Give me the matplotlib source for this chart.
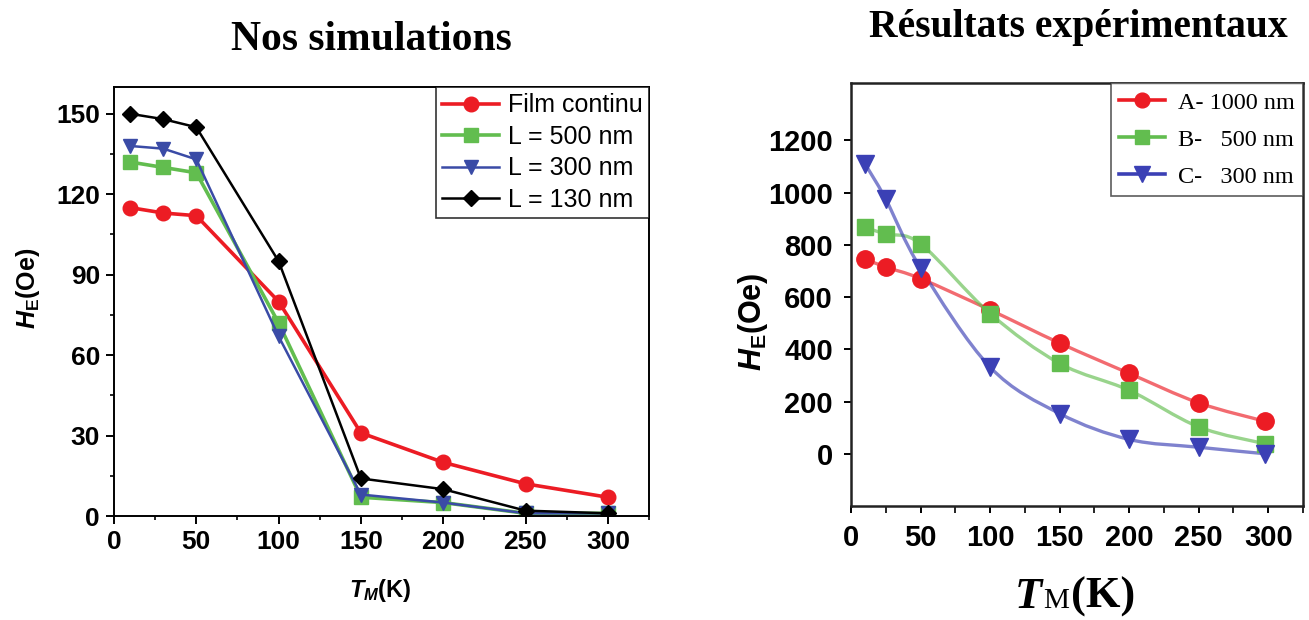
import numpy as np
import matplotlib
matplotlib.use("Agg")
import matplotlib.pyplot as plt
from matplotlib import font_manager
from matplotlib.path import Path
from matplotlib.patches import PathPatch
from matplotlib.offsetbox import TextArea, HPacker, AnchoredOffsetbox

# Données : simulations (panneau gauche)
T_sim = [10, 30, 50, 100, 150, 200, 250, 300]
he_film = [115, 113, 112, 80, 31, 20, 12, 7]
he_500 = [132, 130, 128, 72, 7, 5, 1, 1]
he_300 = [138, 137, 133, 67, 8, 5, 1, 1]
he_130 = [150, 148, 145, 95, 14, 10, 2, 1]
sim_labels = ["Film continu", "L = 500 nm", "L = 300 nm", "L = 130 nm"]

# Données : résultats expérimentaux (panneau droit)
T_exp = [10, 25, 50, 100, 150, 200, 250, 298]
he_A = [746, 715, 671, 551, 424, 308, 195, 124]
he_B = [868, 841, 804, 537, 346, 243, 103, 38]
he_C = [1111, 975, 711, 332, 154, 55, 25, 0]
exp_labels = ["A- 1000 nm", "B-   500 nm", "C-   300 nm"]

names = {f.name for f in font_manager.fontManager.ttflist}
narrow = "Liberation Sans Narrow" if "Liberation Sans Narrow" in names else "Liberation Sans"

plt.rcParams["font.family"] = ["Liberation Sans", "DejaVu Sans"]
plt.rcParams["mathtext.fontset"] = "custom"
plt.rcParams["mathtext.rm"] = "Liberation Sans:bold"
plt.rcParams["mathtext.it"] = "Liberation Sans:bold:italic"
plt.rcParams["mathtext.bf"] = "Liberation Sans:bold"

red = "#ec1c24"
green = "#62bd4f"
blue = "#3a4ba6"
black = "#000000"


def smooth_path(xs, ys):
    # courbe lissée (Catmull-Rom -> Bezier) passant par les points
    pts = np.column_stack([xs, ys]).astype(float)
    ext = np.vstack([pts[0], pts, pts[-1]])
    verts = [pts[0]]
    codes = [Path.MOVETO]
    for i in range(len(pts) - 1):
        p0, p1, p2, p3 = ext[i], ext[i + 1], ext[i + 2], ext[i + 3]
        verts += [p1 + (p2 - p0) / 6, p2 - (p3 - p1) / 6, p2]
        codes += [Path.CURVE4] * 3
    return Path(verts, codes)


fig = plt.figure(figsize=(13.09, 6.2), dpi=100)

# ---- panneau gauche
ax1 = fig.add_axes([114 / 1309, 1 - 516 / 620, 535 / 1309, 429 / 620])
ax1.plot(T_sim, he_film, "-o", color=red, lw=2.6, ms=10.5, label=sim_labels[0])
ax1.plot(T_sim, he_500, "-s", color=green, lw=2.6, ms=9.5, label=sim_labels[1])
ax1.plot(T_sim, he_300, "-v", color=blue, lw=1.8, ms=10.5, label=sim_labels[2])
ax1.plot(T_sim, he_130, "-D", color=black, lw=1.8, ms=8.5, label=sim_labels[3])
ax1.set_xlim(0, 325)
ax1.set_ylim(0, 160)
ax1.set_xticks(range(0, 301, 50))
ax1.set_xticks(range(0, 326, 25), minor=True)
ax1.set_yticks(range(0, 151, 30))
ax1.set_yticks(range(0, 160, 15), minor=True)
ax1.tick_params(direction="out", length=6, width=1.4, labelsize=19, pad=4)
ax1.tick_params(which="minor", direction="out", length=3, width=1.2)
for lab in ax1.get_xticklabels() + ax1.get_yticklabels():
    lab.set_fontweight("bold")
for sp in ax1.spines.values():
    sp.set_linewidth(1.4)
leg1 = ax1.legend(loc="upper right", borderaxespad=0, fontsize=18, frameon=True,
                  fancybox=False, edgecolor="black", handlelength=2.3,
                  labelspacing=0.3, borderpad=0.25, handletextpad=0.35)
leg1.get_frame().set_linewidth(1.2)
fig.text(28 / 1309, 1 - 288 / 620, r"$H_\mathrm{E}$(Oe)", rotation=90, ha="center",
         va="center", fontsize=18, fontweight="bold")
fig.text(380 / 1309, 1 - 590 / 620, r"$T_M$(K)", ha="center", va="center",
         fontsize=17, fontweight="bold")
fig.text(371 / 1309, 1 - 40 / 620, "Nos simulations", ha="center", va="center",
         fontsize=30, fontweight="bold", family="Liberation Serif")

# ---- panneau droit
ax2 = fig.add_axes([851 / 1309, 1 - 506 / 620, 452 / 1309, 423 / 620])
for xs, ys, c, m, ms, lab in [(T_exp, he_A, red, "o", 12.5, exp_labels[0]),
                              (T_exp, he_B, green, "s", 11.5, exp_labels[1]),
                              (T_exp, he_C, "#3b40b5", "v", 13.5, exp_labels[2])]:
    ax2.add_patch(PathPatch(smooth_path(xs, ys), facecolor="none", edgecolor=c,
                            lw=2.4, alpha=0.65))
    ax2.plot(xs, ys, ls="none", marker=m, ms=ms, color=c)
    ax2.plot([], [], "-", marker=m, ms=ms * 0.85, lw=2.6, color=c, label=lab)
ax2.set_xlim(0, 323)
ax2.set_ylim(-200, 1420)
ax2.set_xticks(range(0, 301, 50))
ax2.set_xticks(range(0, 326, 25), minor=True)
ax2.set_yticks(range(0, 1201, 200))
ax2.tick_params(direction="out", length=5, width=1.4, labelsize=21, pad=8)
ax2.tick_params(which="minor", direction="out", length=5, width=1.2)
for lab in ax2.get_xticklabels() + ax2.get_yticklabels():
    lab.set_fontweight("bold")
    lab.set_family(narrow)
for sp in ax2.spines.values():
    sp.set_linewidth(1.8)
    sp.set_color("#222222")
leg2 = ax2.legend(loc="upper right", borderaxespad=0, frameon=True, fancybox=False,
                  edgecolor="#333333", handlelength=1.9, labelspacing=0.62,
                  borderpad=0.35, handletextpad=0.5,
                  prop=dict(family="Liberation Serif", size=17.5))
leg2.get_frame().set_linewidth(1.2)
fig.text(753 / 1309, 1 - 322 / 620, r"$H_\mathrm{E}$(Oe)", rotation=90, ha="center",
         va="center", fontsize=22, fontweight="bold")
fig.text(1078 / 1309, 1 - 28 / 620, "Résultats expérimentaux", ha="center",
         va="center", fontsize=28.5, fontweight="bold", family="Liberation Serif")

serif = "Liberation Serif"
parts = [TextArea("T", textprops=dict(family=serif, weight="bold", style="italic", size=32)),
         TextArea("M", textprops=dict(family=serif, size=21)),
         TextArea("(K)", textprops=dict(family=serif, weight="bold", size=32))]
box = HPacker(children=parts, align="baseline", pad=0, sep=1)
xlab = AnchoredOffsetbox(loc="center", child=box, frameon=False, borderpad=0,
                         bbox_to_anchor=(1075 / 1309, 1 - 597 / 620),
                         bbox_transform=fig.transFigure)
fig.add_artist(xlab)

fig.savefig("out.png", dpi=100)
